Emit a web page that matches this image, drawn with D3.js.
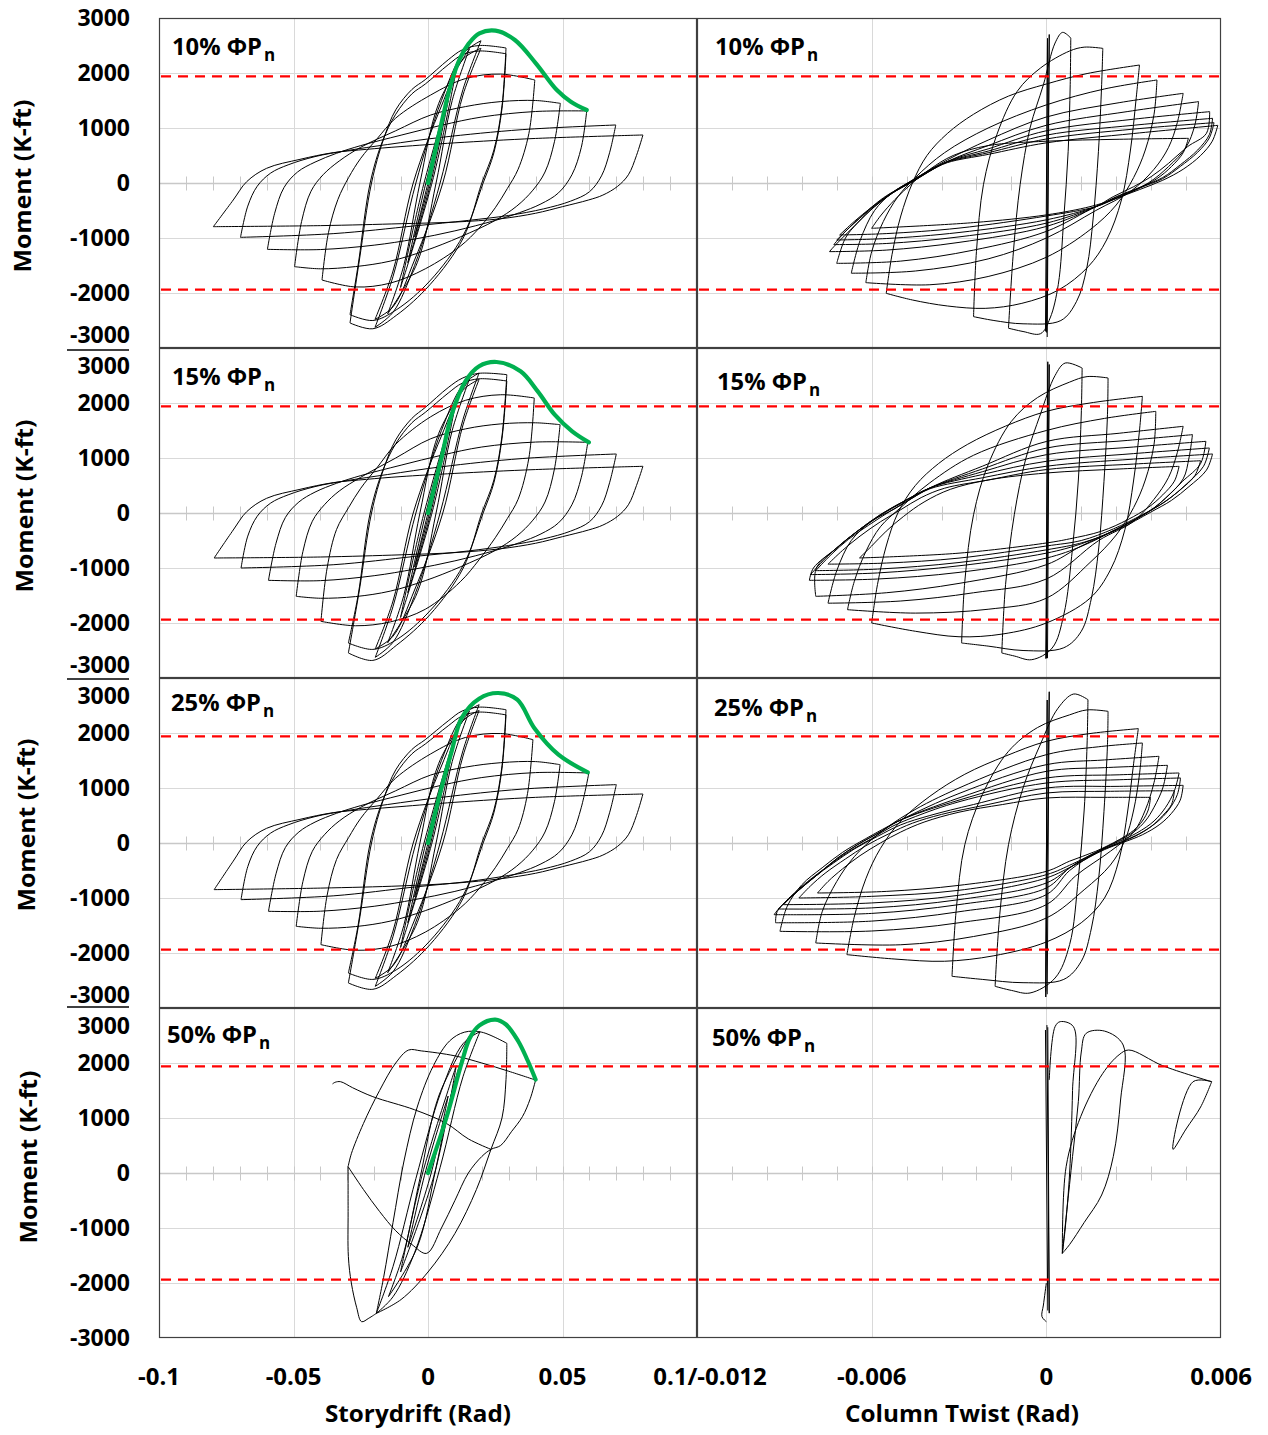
<!DOCTYPE html>
<html><head><meta charset="utf-8">
<script src="https://cdn.jsdelivr.net/npm/d3@7"></script>
<style>
body{margin:0;background:#fff}
svg{display:block}
text{font-family:'Open Sans','Lato',sans-serif;font-weight:700;fill:#000}
</style></head>
<body><svg id="c" width="1268" height="1435"></svg>
<script>
// ---------------- DATA ----------------
const rowLabels = ["10%","15%","25%","50%"];
const momentTicks = [-3000,-2000,-1000,0,1000,2000,3000];
const driftTicks = [-0.1,-0.05,0,0.05];
const driftTickLabels = ["-0.1","-0.05","0","0.05"];
const twistTicks = [-0.006,0,0.006];
const twistTickLabels = ["-0.006","0","0.006"];
const sharedTickLabel = "0.1/-0.012";
const nominalMoment = [1940,-1940];

// Storydrift cycles: [upper branch, lower branch]; points [drift (rad), moment (k-ft)]
const drift10Green = [[0,0],[0.0047,1024],[0.0086,1812],[0.0119,2267],[0.0152,2539],[0.0191,2721],[0.0251,2770],[0.0323,2600],[0.0401,2176],[0.0479,1691],[0.0531,1479],[0.059,1327]];
const drift10Small = [
 [[[-0.005,-980],[0,0],[0.005,1000]],[[0.005,1000],[0.0005,0],[-0.005,-980]]],
 [[[-0.0075,-1450],[-0.0008,0],[0.0075,1500]],[[0.0075,1500],[0.001,0],[-0.0075,-1450]]],
 [[[-0.0102,-1900],[-0.002,-100],[0.0105,2050]],[[0.0105,2050],[0.002,100],[-0.0102,-1900]]],
 [[[-0.015,-2380],[-0.009,-1500],[-0.003,0],[0.004,1450],[0.0154,2442]],[[0.0154,2442],[0.009,1500],[0.003,0],[-0.004,-1450],[-0.015,-2380]]],
 [[[-0.0197,-2624],[-0.013,-1700],[-0.0045,0],[0.005,1500],[0.013,2350],[0.0197,2587]],[[0.0197,2587],[0.013,1700],[0.0045,0],[-0.005,-1500],[-0.013,-2350],[-0.0197,-2624]]],
 [[[-0.0197,-2480],[-0.013,-1600],[-0.0055,0],[0.005,1400],[0.013,2250],[0.0197,2450]],[[0.0197,2450],[0.013,1600],[0.0055,0],[-0.005,-1400],[-0.013,-2250],[-0.0197,-2480]]]
];
const drift10Loops = [
 [[[-0.029,-2545],[-0.0255,-1400],[-0.021,0],[-0.0165,800],[-0.012,1330],[-0.006,1700],[-0.001,1880],[0.0075,2240],[0.0127,2420],[0.019,2500],[0.029,2455]],
  [[0.029,2455],[0.0275,1400],[0.0245,600],[0.02,0],[0.0131,-1000],[0.0007,-1850],[-0.0116,-2400],[-0.0205,-2650],[-0.029,-2545]]],
 [[[-0.029,-2394],[-0.026,-1500],[-0.0215,0],[-0.017,750],[-0.012,1250],[-0.006,1620],[-0.001,1800],[0.0075,2150],[0.0127,2330],[0.019,2400],[0.029,2350]],
  [[0.029,2350],[0.0275,1350],[0.0245,550],[0.0205,0],[0.0131,-950],[0.0007,-1780],[-0.0116,-2300],[-0.0205,-2500],[-0.029,-2394]]],
 [[[-0.0394,-1764],[-0.037,-900],[-0.0335,-300],[-0.0295,100],[-0.025,450],[-0.019,800],[-0.012,1180],[0.001,1600],[0.014,1900],[0.027,1980],[0.0397,1873]],
  [[0.0397,1873],[0.0375,900],[0.0335,250],[0.0295,-100],[0.025,-450],[0.019,-820],[0.012,-1150],[-0.001,-1560],[-0.014,-1820],[-0.027,-1890],[-0.0394,-1764]]],
 [[[-0.0496,-1521],[-0.047,-700],[-0.0435,-150],[-0.039,150],[-0.033,400],[-0.025,650],[-0.012,950],[0.001,1236],[0.014,1390],[0.027,1480],[0.04,1500],[0.0492,1448]],
  [[0.0492,1448],[0.047,750],[0.0435,200],[0.039,-130],[0.033,-420],[0.025,-680],[0.012,-980],[-0.001,-1230],[-0.014,-1420],[-0.027,-1520],[-0.04,-1560],[-0.0496,-1521]]],
 [[[-0.0597,-1206],[-0.057,-550],[-0.0535,-80],[-0.0485,200],[-0.042,380],[-0.034,540],[-0.025,680],[-0.01,870],[0.005,1050],[0.02,1200],[0.04,1300],[0.059,1310]],
  [[0.059,1310],[0.057,650],[0.0535,150],[0.0485,-180],[0.042,-380],[0.034,-540],[0.025,-680],[0.01,-870],[-0.005,-1020],[-0.02,-1130],[-0.04,-1210],[-0.0597,-1206]]],
 [[[-0.0697,-988],[-0.067,-420],[-0.0635,-60],[-0.0585,180],[-0.052,330],[-0.042,480],[-0.03,590],[-0.015,700],[0.005,830],[0.035,970],[0.0698,1055]],
  [[0.0698,1055],[0.0675,550],[0.0645,130],[0.06,-160],[0.053,-330],[0.043,-470],[0.03,-590],[0.015,-680],[-0.005,-780],[-0.035,-920],[-0.0697,-988]]],
 [[[-0.0798,-794],[-0.0724,-309],[-0.0674,24],[-0.06,267],[-0.0476,430],[-0.0352,552],[-0.0228,612],[-0.0104,661],[0.01,730],[0.04,810],[0.0799,873]],
  [[0.0799,873],[0.0775,500],[0.0745,150],[0.0705,-60],[0.065,-220],[0.0596,-310],[0.05,-430],[0.04,-550],[0.027,-650],[0.01,-710],[-0.01,-740],[-0.04,-775],[-0.0798,-794]]]
];

const drift15Green = [[0,0],[0.005,1000],[0.0088,1788],[0.0139,2394],[0.019,2667],[0.0255,2745],[0.0344,2576],[0.0408,2212],[0.0471,1788],[0.0536,1485],[0.0598,1285]];
const drift15Small = [
 [[[-0.005,-980],[0,0],[0.005,1000]],[[0.005,1000],[0.0005,0],[-0.005,-980]]],
 [[[-0.0075,-1450],[-0.0008,0],[0.0075,1500]],[[0.0075,1500],[0.001,0],[-0.0075,-1450]]],
 [[[-0.0102,-1900],[-0.002,-100],[0.0105,2050]],[[0.0105,2050],[0.002,100],[-0.0102,-1900]]],
 [[[-0.015,-2360],[-0.009,-1500],[-0.003,0],[0.004,1450],[0.0154,2430]],[[0.0154,2430],[0.009,1500],[0.003,0],[-0.004,-1450],[-0.015,-2360]]],
 [[[-0.0196,-2624],[-0.013,-1700],[-0.0045,0],[0.005,1500],[0.013,2330],[0.019,2545]],[[0.019,2545],[0.013,1700],[0.0045,0],[-0.005,-1500],[-0.013,-2350],[-0.0196,-2624]]],
 [[[-0.0196,-2470],[-0.013,-1600],[-0.0055,0],[0.005,1400],[0.013,2230],[0.019,2430]],[[0.019,2430],[0.013,1600],[0.0055,0],[-0.005,-1400],[-0.013,-2240],[-0.0196,-2470]]]
];
const drift15Loops = [
 [[[-0.0296,-2545],[-0.0255,-1400],[-0.021,0],[-0.0165,800],[-0.012,1330],[-0.006,1720],[-0.001,1920],[0.0075,2280],[0.0127,2450],[0.019,2540],[0.0293,2515]],
  [[0.0293,2515],[0.0275,1400],[0.0245,600],[0.02,0],[0.0131,-1000],[0.0007,-1850],[-0.0116,-2400],[-0.0205,-2680],[-0.0296,-2545]]],
 [[[-0.0296,-2364],[-0.026,-1500],[-0.0215,0],[-0.017,750],[-0.012,1260],[-0.006,1640],[-0.001,1830],[0.0075,2180],[0.0127,2360],[0.019,2440],[0.0293,2400]],
  [[0.0293,2400],[0.0275,1350],[0.0245,550],[0.0205,0],[0.0131,-950],[0.0007,-1780],[-0.0116,-2300],[-0.0205,-2480],[-0.0296,-2364]]],
 [[[-0.0398,-1970],[-0.0375,-1000],[-0.034,-300],[-0.0295,100],[-0.025,450],[-0.019,820],[-0.012,1250],[0.001,1750],[0.014,2050],[0.027,2150],[0.0395,2091]],
  [[0.0395,2091],[0.0375,1000],[0.0335,250],[0.0295,-100],[0.025,-450],[0.019,-850],[0.012,-1250],[-0.001,-1750],[-0.014,-1980],[-0.027,-2050],[-0.0398,-1970]]],
 [[[-0.049,-1515],[-0.0465,-700],[-0.043,-150],[-0.0385,150],[-0.033,400],[-0.025,650],[-0.012,1000],[0.001,1350],[0.014,1530],[0.027,1620],[0.04,1640],[0.0491,1606]],
  [[0.0491,1606],[0.047,800],[0.0435,200],[0.039,-130],[0.033,-420],[0.025,-680],[0.012,-980],[-0.001,-1230],[-0.014,-1420],[-0.027,-1520],[-0.04,-1550],[-0.049,-1515]]],
 [[[-0.0593,-1224],[-0.0565,-550],[-0.053,-80],[-0.048,200],[-0.042,380],[-0.034,540],[-0.025,680],[-0.01,870],[0.005,1050],[0.02,1200],[0.04,1290],[0.0594,1285]],
  [[0.0594,1285],[0.057,650],[0.0535,150],[0.0485,-180],[0.042,-380],[0.034,-540],[0.025,-680],[0.01,-870],[-0.005,-1020],[-0.02,-1140],[-0.04,-1230],[-0.0593,-1224]]],
 [[[-0.0695,-1000],[-0.067,-420],[-0.0635,-60],[-0.0585,180],[-0.052,330],[-0.042,480],[-0.03,590],[-0.015,700],[0.005,840],[0.035,990],[0.07,1073]],
  [[0.07,1073],[0.0675,550],[0.0645,130],[0.06,-160],[0.053,-330],[0.043,-470],[0.03,-590],[0.015,-690],[-0.005,-790],[-0.035,-940],[-0.0695,-1000]]],
 [[[-0.0795,-818],[-0.0724,-309],[-0.0674,24],[-0.06,267],[-0.0476,430],[-0.0352,552],[-0.0228,612],[-0.0104,661],[0.01,720],[0.04,790],[0.0799,849]],
  [[0.0799,849],[0.0775,500],[0.0745,150],[0.0705,-60],[0.065,-220],[0.0596,-310],[0.05,-430],[0.04,-550],[0.027,-650],[0.01,-720],[-0.01,-760],[-0.04,-800],[-0.0795,-818]]]
];

const drift25Green = [[0,0],[0.005,1000],[0.0088,1667],[0.0125,2273],[0.019,2624],[0.0261,2727],[0.0332,2606],[0.0395,2091],[0.0485,1606],[0.0594,1285]];
const drift25Small = [
 [[[-0.005,-980],[0,0],[0.005,1000]],[[0.005,1000],[0.0005,0],[-0.005,-980]]],
 [[[-0.0075,-1450],[-0.0008,0],[0.0075,1500]],[[0.0075,1500],[0.001,0],[-0.0075,-1450]]],
 [[[-0.0102,-1900],[-0.002,-100],[0.0105,2030]],[[0.0105,2030],[0.002,100],[-0.0102,-1900]]],
 [[[-0.015,-2360],[-0.009,-1500],[-0.003,0],[0.004,1450],[0.0154,2400]],[[0.0154,2400],[0.009,1480],[0.003,0],[-0.004,-1450],[-0.015,-2360]]],
 [[[-0.0196,-2606],[-0.013,-1700],[-0.0045,0],[0.005,1500],[0.013,2320],[0.019,2515]],[[0.019,2515],[0.013,1680],[0.0045,0],[-0.005,-1500],[-0.013,-2340],[-0.0196,-2606]]],
 [[[-0.0196,-2460],[-0.013,-1600],[-0.0055,0],[0.005,1400],[0.013,2220],[0.019,2410]],[[0.019,2410],[0.013,1580],[0.0055,0],[-0.005,-1400],[-0.013,-2230],[-0.0196,-2460]]]
];
const drift25Loops = [
 [[[-0.0296,-2545],[-0.0255,-1400],[-0.021,0],[-0.0165,800],[-0.012,1330],[-0.006,1700],[-0.001,1880],[0.0075,2220],[0.0127,2400],[0.019,2470],[0.029,2424]],
  [[0.029,2424],[0.0275,1400],[0.0245,600],[0.02,0],[0.0131,-1000],[0.0007,-1850],[-0.0116,-2400],[-0.0205,-2660],[-0.0296,-2545]]],
 [[[-0.0296,-2364],[-0.026,-1500],[-0.0215,0],[-0.017,750],[-0.012,1250],[-0.006,1620],[-0.001,1800],[0.0075,2130],[0.0127,2310],[0.019,2380],[0.029,2330]],
  [[0.029,2330],[0.0275,1350],[0.0245,550],[0.0205,0],[0.0131,-950],[0.0007,-1780],[-0.0116,-2300],[-0.0205,-2480],[-0.0296,-2364]]],
 [[[-0.0398,-1848],[-0.0375,-950],[-0.034,-300],[-0.0295,100],[-0.025,450],[-0.019,800],[-0.012,1180],[0.001,1620],[0.014,1920],[0.027,1990],[0.039,1879]],
  [[0.039,1879],[0.037,900],[0.0335,250],[0.0295,-100],[0.025,-450],[0.019,-830],[0.012,-1180],[-0.001,-1620],[-0.014,-1880],[-0.027,-1950],[-0.0398,-1848]]],
 [[[-0.049,-1515],[-0.0465,-700],[-0.043,-150],[-0.0385,150],[-0.033,400],[-0.025,650],[-0.012,950],[0.001,1236],[0.014,1380],[0.027,1460],[0.04,1480],[0.0491,1424]],
  [[0.0491,1424],[0.047,750],[0.0435,200],[0.039,-130],[0.033,-420],[0.025,-680],[0.012,-980],[-0.001,-1230],[-0.014,-1420],[-0.027,-1520],[-0.04,-1550],[-0.049,-1515]]],
 [[[-0.0593,-1242],[-0.0565,-560],[-0.053,-80],[-0.048,200],[-0.042,380],[-0.034,540],[-0.025,680],[-0.01,870],[0.005,1050],[0.02,1190],[0.04,1280],[0.0598,1273]],
  [[0.0598,1273],[0.057,650],[0.0535,150],[0.0485,-180],[0.042,-380],[0.034,-540],[0.025,-680],[0.01,-880],[-0.005,-1030],[-0.02,-1150],[-0.04,-1240],[-0.0593,-1242]]],
 [[[-0.0695,-1030],[-0.067,-430],[-0.0635,-60],[-0.0585,180],[-0.052,330],[-0.042,480],[-0.03,590],[-0.015,700],[0.005,830],[0.035,980],[0.07,1061]],
  [[0.07,1061],[0.0675,550],[0.0645,130],[0.06,-160],[0.053,-330],[0.043,-470],[0.03,-590],[0.015,-700],[-0.005,-800],[-0.035,-960],[-0.0695,-1030]]],
 [[[-0.0795,-848],[-0.0724,-330],[-0.0674,20],[-0.06,267],[-0.0476,430],[-0.0352,552],[-0.0228,612],[-0.0104,661],[0.01,740],[0.04,830],[0.0799,891]],
  [[0.0799,891],[0.0775,500],[0.0745,150],[0.0705,-60],[0.065,-220],[0.0596,-310],[0.05,-430],[0.04,-550],[0.027,-650],[0.01,-730],[-0.01,-780],[-0.04,-820],[-0.0795,-848]]]
];

const drift50Green = [[0,0],[0.0068,1000],[0.0125,2000],[0.0155,2450],[0.019,2680],[0.025,2790],[0.029,2700],[0.0335,2400],[0.037,2050],[0.04,1700]];
const drift50Small = [
 [[[-0.0075,-1350],[-0.0008,50],[0.0075,1400]],[[0.0075,1400],[0.0012,0],[-0.0075,-1350]]],
 [[[-0.0102,-1800],[-0.002,0],[0.0105,1950]],[[0.0105,1950],[0.0025,0],[-0.0102,-1800]]],
 [[[-0.0147,-2248],[-0.009,-1450],[-0.003,-100],[0.004,1400],[0.0152,2479]],[[0.0152,2479],[0.009,1500],[0.003,100],[-0.004,-1350],[-0.0147,-2248]]],
 [[[-0.0192,-2552],[-0.013,-1700],[-0.0045,-100],[0.005,1500],[0.013,2350],[0.0193,2570]],[[0.0193,2570],[0.013,1750],[0.0045,100],[-0.005,-1450],[-0.013,-2250],[-0.0192,-2552]]]
];
const drift50Loops = [
 [[[-0.0192,-2552],[-0.0165,-1900],[-0.013,-900],[-0.009,200],[-0.004,1200],[0.002,1950],[0.008,2400],[0.0135,2560],[0.02,2560],[0.0293,2358]],
  [[0.0293,2358],[0.029,1700],[0.0275,1000],[0.0234,430],[0.018,-300],[0.01,-1100],[0,-1800],[-0.01,-2300],[-0.0192,-2552]]]
];
const drift50Paths = [
 [[0.04,1690],[0.03,1850],[0.02,2000],[0.01,2130],[-0.0025,2220],[-0.0072,2236],[-0.012,2000],[-0.018,1500],[-0.024,900],[-0.0285,350],[-0.0297,115]],
 [[-0.0297,115],[-0.0297,-700],[-0.0296,-1521],[-0.0285,-2000],[-0.0265,-2450],[-0.0247,-2703],[-0.022,-2640],[-0.0192,-2552]],
 [[-0.0297,115],[-0.024,-300],[-0.018,-700],[-0.012,-1050],[-0.006,-1300],[-0.0005,-1461],[0.005,-1000],[0.01,-500],[0.015,0],[0.02,300],[0.0234,430],[0.027,500],[0.031,750],[0.0351,1024],[0.038,1350],[0.04,1690]],
 [[0.0234,430],[0.015,620],[0.0068,903],[-0.005,1150],[-0.0205,1388],[-0.028,1550],[-0.0325,1660],[-0.0345,1650],[-0.0355,1620]]
];

// Column twist cycles: points [twist (rad), moment (k-ft)]
const twist10Zero = [[[-0.00003,-2700],[0.00004,2630]],[[0.00004,2630],[0.00001,-2700]],[[0.00001,-2720],[0.0001,2700]],[[0.0001,2700],[0.00003,-2800]]];
const twist10Loops = [
 [[[-0.0013,-2640],[-0.00113,-1242],[-0.0009,-30],[-0.00056,1000],[-0.0001,1788],[0.0003,2545],[0.00056,2739],[0.00084,2636]],
  [[0.00084,2636],[0.00082,1788],[0.00075,576],[0.0006,-636],[0.00041,-1848],[0.00013,-2455],[-0.0002,-2740],[-0.0008,-2700],[-0.0013,-2640]]],
 [[[-0.0025,-2430],[-0.0024,-1242],[-0.00216,-30],[-0.0017,879],[-0.001,1667],[-0.0002,2091],[0.0008,2400],[0.0013,2470],[0.00194,2448]],
  [[0.00194,2448],[0.0019,1788],[0.00179,576],[0.00161,-636],[0.00139,-1545],[0.00104,-2151],[0.0005,-2500],[-0.0008,-2560],[-0.0018,-2500],[-0.0025,-2430]]],
 [[[-0.0055,-2006],[-0.0053,-1300],[-0.005,-600],[-0.0046,0],[-0.0041,500],[-0.0034,900],[-0.0025,1250],[-0.0013,1580],[0,1800],[0.0014,1990],[0.0032,2145]],
  [[0.0032,2145],[0.00308,1509],[0.00289,600],[0.00258,-309],[0.00207,-1036],[0.00144,-1521],[0.00042,-1945],[-0.00084,-2188],[-0.0021,-2279],[-0.0034,-2236],[-0.0046,-2127],[-0.0055,-2006]]],
 [[[-0.0062,-1812],[-0.006,-1250],[-0.0056,-700],[-0.0051,-250],[-0.0045,100],[-0.0035,550],[-0.002,1000],[0,1420],[0.002,1710],[0.0038,1873]],
  [[0.0038,1873],[0.0037,1250],[0.0034,600],[0.003,100],[0.0024,-400],[0.0015,-850],[0,-1350],[-0.002,-1700],[-0.004,-1850],[-0.0062,-1812]]],
 [[[-0.0067,-1640],[-0.0064,-1050],[-0.0059,-500],[-0.0053,-180],[-0.0046,50],[-0.0034,420],[-0.002,780],[0,1200],[0.0025,1460],[0.0047,1630]],
  [[0.0047,1630],[0.0045,1100],[0.0042,650],[0.0037,250],[0.0029,-150],[0.0017,-500],[0,-1000],[-0.002,-1380],[-0.0045,-1600],[-0.0067,-1640]]],
 [[[-0.0072,-1461],[-0.0069,-1000],[-0.0065,-733],[-0.0059,-430],[-0.0053,-188],[-0.0046,24],[-0.0034,390],[-0.002,680],[0,1050],[0.0028,1300],[0.00523,1479]],
  [[0.00523,1479],[0.0051,1050],[0.0048,650],[0.0042,300],[0.0035,0],[0.0023,-300],[0.0017,-430],[0,-880],[-0.0025,-1220],[-0.005,-1420],[-0.0072,-1461]]],
 [[[-0.00745,-1248],[-0.0073,-1158],[-0.0065,-733],[-0.0059,-430],[-0.0053,-188],[-0.0046,24],[-0.0034,390],[-0.002,620],[0,950],[0.003,1160],[0.00561,1297]],
  [[0.00561,1297],[0.0055,903],[0.00485,660],[0.0042,358],[0.0036,115],[0.003,-67],[0.0023,-248],[0.0017,-430],[0,-790],[-0.003,-1080],[-0.0055,-1220],[-0.00745,-1248]]],
 [[[-0.0073,-1120],[-0.0069,-880],[-0.0063,-580],[-0.0056,-270],[-0.0048,-20],[-0.004,236],[-0.0034,388],[-0.002,580],[0,870],[0.003,1050],[0.00571,1176]],
  [[0.00571,1176],[0.0056,880],[0.0052,600],[0.0046,330],[0.004,100],[0.0033,-60],[0.0024,-250],[0.0017,-430],[0,-730],[-0.003,-980],[-0.0055,-1100],[-0.0073,-1120]]],
 [[[-0.0072,-1036],[-0.0067,-780],[-0.0061,-500],[-0.0054,-210],[-0.0047,20],[-0.004,230],[-0.0034,380],[-0.002,550],[0,800],[0.003,980],[0.00576,1097]],
  [[0.00576,1097],[0.0056,820],[0.0052,560],[0.0046,300],[0.004,80],[0.0032,-90],[0.0024,-260],[0.0017,-430],[0,-670],[-0.003,-900],[-0.0055,-1010],[-0.0072,-1036]]],
 [[[-0.0071,-945],[-0.0066,-700],[-0.006,-440],[-0.0053,-180],[-0.0046,30],[-0.004,220],[-0.0034,370],[-0.002,520],[0,730],[0.003,900],[0.00589,1048]],
  [[0.00589,1048],[0.0057,760],[0.0053,500],[0.0047,250],[0.004,50],[0.0032,-120],[0.0024,-280],[0.0017,-430],[0,-600],[-0.003,-820],[-0.0055,-920],[-0.0071,-945]]],
 [[[-0.006,-824],[-0.0057,-600],[-0.0052,-300],[-0.0046,0],[-0.004,250],[-0.0032,500],[-0.002,680],[0,760],[0.0025,795],[0.00488,812]],
  [[0.00488,812],[0.0047,550],[0.0043,300],[0.0038,80],[0.0031,-120],[0.0023,-300],[0.0015,-430],[0,-580],[-0.0025,-720],[-0.006,-824]]]
];

const twist15Zero = [[[-0.00002,-2650],[0.00005,2750]],[[0.00005,2750],[0,-2640]],[[0,-2640],[0.0001,2700]],[[0.0001,2700],[0.00004,-2640]]];
const twist15Loops = [
 [[[-0.00153,-2545],[-0.0014,-1300],[-0.0011,-30],[-0.0007,1000],[-0.0002,1800],[0.0003,2500],[0.00065,2727],[0.00123,2636]],
  [[0.00123,2636],[0.0012,1800],[0.0011,600],[0.0009,-636],[0.0006,-1848],[0.0002,-2455],[-0.0005,-2667],[-0.0011,-2600],[-0.00153,-2545]]],
 [[[-0.00291,-2364],[-0.0028,-1242],[-0.0025,-30],[-0.002,879],[-0.0012,1667],[-0.0003,2100],[0.0008,2380],[0.0014,2480],[0.00212,2455]],
  [[0.00212,2455],[0.0021,1788],[0.00198,576],[0.0018,-636],[0.00155,-1545],[0.0012,-2151],[0.0006,-2450],[-0.0008,-2500],[-0.002,-2420],[-0.00291,-2364]]],
 [[[-0.006,-2000],[-0.0058,-1300],[-0.0055,-600],[-0.0051,0],[-0.0045,500],[-0.0037,900],[-0.0027,1250],[-0.0014,1580],[0,1848],[0.0015,2000],[0.0033,2121]],
  [[0.0033,2121],[0.0032,1500],[0.003,600],[0.0027,-300],[0.0022,-1036],[0.0015,-1550],[0,-2000],[-0.0015,-2200],[-0.003,-2250],[-0.0045,-2150],[-0.006,-2000]]],
 [[[-0.00683,-1758],[-0.0066,-1250],[-0.0062,-700],[-0.0057,-250],[-0.005,100],[-0.004,550],[-0.0025,1050],[0,1500],[0.002,1720],[0.00376,1848]],
  [[0.00376,1848],[0.0037,1250],[0.0034,600],[0.003,100],[0.0024,-400],[0.0015,-900],[0,-1550],[-0.002,-1750],[-0.0045,-1820],[-0.00683,-1758]]],
 [[[-0.0075,-1640],[-0.0072,-1050],[-0.0067,-500],[-0.006,-150],[-0.0052,80],[-0.004,455],[-0.0022,850],[0,1300],[0.0025,1450],[0.0047,1576]],
  [[0.0047,1576],[0.0045,1100],[0.0042,650],[0.0037,250],[0.003,-150],[0.0018,-500],[0,-1200],[-0.0025,-1450],[-0.005,-1600],[-0.0075,-1640]]],
 [[[-0.00792,-1515],[-0.0079,-1000],[-0.0072,-636],[-0.0065,-333],[-0.0057,-30],[-0.0049,212],[-0.004,455],[-0.0022,800],[0,1180],[0.0028,1320],[0.00502,1424]],
  [[0.00502,1424],[0.0049,1000],[0.0047,620],[0.0041,273],[0.00353,30],[0.00238,-303],[0.0012,-600],[0,-940],[-0.003,-1280],[-0.0055,-1450],[-0.00792,-1515]]],
 [[[-0.00814,-1224],[-0.008,-1000],[-0.0072,-636],[-0.0065,-333],[-0.0057,-30],[-0.0049,212],[-0.004,455],[-0.0022,750],[0,1060],[0.003,1200],[0.00548,1303]],
  [[0.00548,1303],[0.0053,900],[0.00468,576],[0.0041,273],[0.00353,30],[0.00238,-303],[0.00123,-600],[0,-820],[-0.003,-1080],[-0.0058,-1200],[-0.00814,-1224]]],
 [[[-0.0081,-1120],[-0.0076,-830],[-0.007,-540],[-0.0063,-260],[-0.0056,-10],[-0.0048,230],[-0.004,455],[-0.0022,700],[0,940],[0.003,1080],[0.0056,1182]],
  [[0.0056,1182],[0.0054,850],[0.0048,520],[0.0042,250],[0.0035,20],[0.0024,-300],[0.0012,-560],[0,-730],[-0.003,-960],[-0.0058,-1090],[-0.0081,-1120]]],
 [[[-0.00792,-1048],[-0.0074,-760],[-0.0068,-480],[-0.0061,-220],[-0.0054,20],[-0.0047,240],[-0.004,440],[-0.0022,640],[0,850],[0.003,980],[0.00571,1073]],
  [[0.00571,1073],[0.0055,780],[0.0049,480],[0.0043,230],[0.0036,20],[0.0025,-290],[0.0013,-530],[0,-670],[-0.003,-900],[-0.0058,-1020],[-0.00792,-1048]]],
 [[[-0.0075,-930],[-0.007,-680],[-0.0064,-420],[-0.0057,-160],[-0.005,60],[-0.0043,280],[-0.0035,450],[-0.002,600],[0,790],[0.003,890],[0.0053,950]],
  [[0.0053,950],[0.0051,680],[0.0046,420],[0.004,180],[0.0033,-30],[0.0023,-290],[0.0012,-500],[0,-600],[-0.003,-820],[-0.0055,-910],[-0.0075,-930]]],
 [[[-0.00642,-818],[-0.006,-600],[-0.0055,-330],[-0.0049,-60],[-0.0042,200],[-0.0033,430],[-0.002,600],[0,727],[0.0025,800],[0.00456,848]],
  [[0.00456,848],[0.0044,580],[0.004,330],[0.0035,100],[0.0028,-120],[0.0019,-330],[0.0008,-470],[0,-545],[-0.003,-730],[-0.00642,-818]]]
];

const twist25Zero = [[[-0.00002,-2700],[0.00003,2600]],[[0.00003,2600],[-0.00002,-2800]],[[-0.00002,-2800],[0.0001,2750]],[[0.0001,2750],[0.00003,-2750]]];
const twist25Loops = [
 [[[-0.00176,-2606],[-0.0016,-1300],[-0.0013,-30],[-0.0008,1000],[-0.0002,1800],[0.0004,2450],[0.00094,2709],[0.00143,2606]],
  [[0.00143,2606],[0.0014,1800],[0.0013,600],[0.0011,-636],[0.0008,-1848],[0.0003,-2455],[-0.00056,-2727],[-0.0012,-2680],[-0.00176,-2606]]],
 [[[-0.00324,-2424],[-0.0031,-1242],[-0.0028,-30],[-0.0022,879],[-0.0013,1667],[-0.0003,2100],[0.0008,2330],[0.0014,2420],[0.00212,2394]],
  [[0.00212,2394],[0.0021,1788],[0.00198,576],[0.0018,-636],[0.00155,-1545],[0.0012,-2151],[0.0006,-2480],[-0.0008,-2540],[-0.0022,-2480],[-0.00324,-2424]]],
 [[[-0.00685,-2030],[-0.0066,-1350],[-0.0062,-650],[-0.0057,-100],[-0.005,400],[-0.004,850],[-0.0028,1250],[-0.0014,1580],[0,1848],[0.0015,1990],[0.00316,2079]],
  [[0.00316,2079],[0.003,1450],[0.0028,600],[0.0025,-300],[0.002,-1000],[0.0012,-1450],[0,-1800],[-0.0018,-2050],[-0.0035,-2150],[-0.0052,-2110],[-0.00685,-2030]]],
 [[[-0.00792,-1818],[-0.0077,-1250],[-0.0072,-700],[-0.0066,-250],[-0.0058,150],[-0.0047,550],[-0.003,1000],[0,1606],[0.0018,1750],[0.0033,1818]],
  [[0.0033,1818],[0.0032,1250],[0.003,600],[0.0027,50],[0.0022,-400],[0.0013,-850],[0,-1364],[-0.0025,-1700],[-0.005,-1850],[-0.00792,-1818]]],
 [[[-0.00915,-1606],[-0.0089,-1150],[-0.0084,-760],[-0.0077,-450],[-0.007,-170],[-0.0062,80],[-0.005,420],[-0.003,900],[0,1424],[0.002,1510],[0.00387,1576]],
  [[0.00387,1576],[0.0037,1100],[0.0034,600],[0.003,200],[0.0022,-150],[0.001,-600],[0,-1121],[-0.003,-1450],[-0.006,-1600],[-0.00915,-1606]]],
 [[[-0.0093,-1450],[-0.00924,-1242],[-0.00855,-879],[-0.00786,-576],[-0.00717,-273],[-0.00648,-30],[-0.00567,212],[-0.0051,394],[-0.003,820],[0,1303],[0.002,1370],[0.00416,1412]],
  [[0.00416,1412],[0.004,1000],[0.0037,650],[0.0034,400],[0.003,200],[0.0018,-150],[0.0008,-500],[0,-939],[-0.003,-1250],[-0.006,-1420],[-0.0093,-1450]]],
 [[[-0.00935,-1303],[-0.0092,-1200],[-0.00855,-879],[-0.00786,-576],[-0.00717,-273],[-0.00648,-30],[-0.00567,212],[-0.0051,394],[-0.003,780],[0,1182],[0.0025,1240],[0.00456,1273]],
  [[0.00456,1273],[0.0044,950],[0.0041,650],[0.0037,400],[0.0031,180],[0.0018,-140],[0.0008,-450],[0,-818],[-0.003,-1120],[-0.006,-1280],[-0.00935,-1303]]],
 [[[-0.0092,-1200],[-0.0088,-980],[-0.0082,-700],[-0.0075,-420],[-0.0068,-160],[-0.006,80],[-0.0053,300],[-0.0045,480],[-0.003,750],[0,1091],[0.0025,1150],[0.00461,1182]],
  [[0.00461,1182],[0.0045,880],[0.0042,600],[0.0038,380],[0.0032,170],[0.0019,-130],[0.0009,-420],[0,-727],[-0.003,-1030],[-0.006,-1180],[-0.0092,-1200]]],
 [[[-0.00903,-1121],[-0.0086,-900],[-0.008,-630],[-0.0073,-360],[-0.0066,-110],[-0.0058,120],[-0.005,330],[-0.004,500],[-0.0025,700],[0,1000],[0.0025,1030],[0.0047,1048]],
  [[0.0047,1048],[0.0046,780],[0.0043,540],[0.0039,340],[0.0033,150],[0.002,-120],[0.001,-390],[0,-636],[-0.003,-950],[-0.006,-1090],[-0.00903,-1121]]],
 [[[-0.0085,-1000],[-0.0081,-780],[-0.0076,-550],[-0.0069,-290],[-0.0062,-50],[-0.0054,170],[-0.0046,360],[-0.0036,520],[-0.002,700],[0,909],[0.0022,940],[0.0044,950]],
  [[0.0044,950],[0.0043,700],[0.004,500],[0.0036,300],[0.003,110],[0.0018,-150],[0.0009,-380],[0,-576],[-0.003,-860],[-0.006,-970],[-0.0085,-1000]]],
 [[[-0.00786,-909],[-0.0075,-700],[-0.007,-470],[-0.0064,-230],[-0.0057,0],[-0.005,200],[-0.0042,380],[-0.003,560],[-0.0015,700],[0,818],[0.002,830],[0.00358,830]],
  [[0.00358,830],[0.0035,600],[0.0033,400],[0.003,230],[0.0025,60],[0.0017,-150],[0.0008,-330],[0,-515],[-0.003,-770],[-0.0055,-880],[-0.00786,-909]]]
];

const twist50Zero = [[[0.00002,2690],[0.0001,-2545]],[[-0.00003,2600],[0.00005,-2500]],[[0.00005,2650],[0.0001,-2550]],[[0,-2000],[-0.0001,-2400],[-0.00015,-2612],[0,-2703]]];
const twist50Paths = [
 [[0.0001,1690],[0.0003,2661],[0.00048,2752],[0.00093,2661],[0.0009,1500],[0.0008,0],[0.00065,-1000],[0.00055,-1461],[0.0007,-700],[0.0009,300],[0.0011,1300],[0.0012,2200],[0.00137,2540],[0.002,2580],[0.00264,2327],[0.00255,1327],[0.0023,300],[0.0019,-400],[0.0013,-900],[0.0008,-1300],[0.00055,-1461]],
 [[0.00055,-1461],[0.00068,115],[0.00118,1024],[0.00194,1812],[0.0025,2150],[0.00283,2236],[0.004,1950],[0.00568,1660]],
 [[0.00568,1660],[0.0053,1200],[0.0048,800],[0.00435,430],[0.00504,1660],[0.00568,1660]]
];

// ---------------- DRAW ----------------
const svg = d3.select('#c');
const rowTops = [18,348,678,1008], rowH = 330;
const xL = d3.scaleLinear().domain([-0.1,0.1]).range([159,697]);
const xR = d3.scaleLinear().domain([-0.012,0.006]).range([697,1221]);
const yS = i => d3.scaleLinear().domain([-3000,3000]).range([rowTops[i]+rowH, rowTops[i]]);
const defs = svg.append('defs');

function drawPanel(row, side, loops, paths, green){
  const xs = side==='L'?xL:xR, ys = yS(row);
  const [x0,x1] = xs.range(), top = rowTops[row], bot = top+rowH;
  const id = 'clip'+row+side;
  defs.append('clipPath').attr('id',id).append('rect').attr('x',x0).attr('y',top).attr('width',x1-x0).attr('height',rowH);
  const g = svg.append('g');
  g.selectAll('line.hg').data([-2000,-1000,1000,2000]).join('line')
    .attr('x1',x0).attr('x2',x1).attr('y1',d=>Math.round(ys(d))+0.5).attr('y2',d=>Math.round(ys(d))+0.5)
    .attr('stroke','#d9d9d9').attr('stroke-width',1);
  const vgrid = side==='L'?[-0.05,0,0.05]:[-0.006,0];
  g.selectAll('line.vg').data(vgrid).join('line')
    .attr('x1',d=>Math.round(xs(d))+0.5).attr('x2',d=>Math.round(xs(d))+0.5).attr('y1',top).attr('y2',bot)
    .attr('stroke','#d9d9d9').attr('stroke-width',1);
  const y0 = Math.round(ys(0))+0.5;
  g.append('line').attr('x1',x0).attr('x2',x1).attr('y1',y0).attr('y2',y0).attr('stroke','#c8c8c8').attr('stroke-width',1.5);
  const minor = side==='L' ? d3.range(-9,10).map(i=>i*0.01) : d3.range(-9,5).map(i=>i*0.0012);
  g.selectAll('line.mt').data(minor).join('line')
    .attr('x1',d=>Math.round(xs(d))+0.5).attr('x2',d=>Math.round(xs(d))+0.5).attr('y1',y0-7).attr('y2',y0+7)
    .attr('stroke','#c8c8c8').attr('stroke-width',1);
  const cg = svg.append('g').attr('clip-path','url(#'+id+')');
  const line = d3.line().x(d=>xs(d[0])).y(d=>ys(d[1])).curve(d3.curveCatmullRom.alpha(0.5));
  loops.forEach(lp=>lp.forEach(br=>{
    cg.append('path').attr('d',line(br)).attr('fill','none').attr('stroke','#000').attr('stroke-width',1);
  }));
  (paths||[]).forEach(p=>{
    cg.append('path').attr('d',line(p)).attr('fill','none').attr('stroke','#000').attr('stroke-width',1);
  });
  cg.selectAll('line.rd').data(nominalMoment).join('line')
    .attr('x1',x0+2).attr('x2',x1).attr('y1',d=>ys(d)).attr('y2',d=>ys(d))
    .attr('stroke','#ff0000').attr('stroke-width',2.2).attr('stroke-dasharray','10,7');
  if(green){
    cg.append('path').attr('d',line(green)).attr('fill','none').attr('stroke','#00b050').attr('stroke-width',4.2).attr('stroke-linecap','round');
  }
  svg.append('rect').attr('x',x0+0.5).attr('y',top+0.5).attr('width',x1-x0-1).attr('height',rowH-1)
    .attr('fill','none').attr('stroke','#404040').attr('stroke-width',1.2);
}

const leftData = [
  [drift10Small.concat(drift10Loops),null,drift10Green],
  [drift15Small.concat(drift15Loops),null,drift15Green],
  [drift25Small.concat(drift25Loops),null,drift25Green],
  [drift50Small.concat(drift50Loops),drift50Paths,drift50Green]];
const rightData = [[twist10Loops,twist10Zero],[twist15Loops,twist15Zero],[twist25Loops,twist25Zero],[[],twist50Zero.concat(twist50Paths)]];
for(let r=0;r<4;r++){
  drawPanel(r,'L',leftData[r][0],leftData[r][1],leftData[r][2]);
  drawPanel(r,'R',rightData[r][0],rightData[r][1],null);
}

// y tick labels
const topShift = [0,18,18,18], botShift = [-13.5,-13.5,-13.5,0];
for(let r=0;r<4;r++){
  const ys = yS(r);
  svg.selectAll(null).data(momentTicks).join('text')
    .attr('x',130).attr('text-anchor','end').attr('font-size',23)
    .attr('y',d=>ys(d)+8.2+(d===3000?topShift[r]:d===-3000?botShift[r]:0))
    .text(d=>d);
  if(r<3){
    const yy=[350,679,1007][r];
    svg.append('line').attr('x1',67).attr('x2',129).attr('y1',yy).attr('y2',yy).attr('stroke','#000').attr('stroke-width',1.5);
  }
}
// y titles
const yTitleX=[31,33,35,37], yTitleY=[186,506,825,1157];
for(let r=0;r<4;r++){
  svg.append('text').attr('transform',`translate(${yTitleX[r]},${yTitleY[r]}) rotate(-90)`)
    .attr('text-anchor','middle').attr('font-size',24).attr('textLength',173).attr('lengthAdjust','spacingAndGlyphs')
    .text('Moment (K-ft)');
}
// panel labels
const lblL=[[172,55],[172,385],[171,711],[167,1043]], lblR=[[715,55],[717,390],[714,716],[712,1046]];
[lblL,lblR].forEach(set=>set.forEach((p,r)=>{
  svg.append('text').attr('x',p[0]).attr('y',p[1]).attr('font-size',23).attr('textLength',90).attr('lengthAdjust','spacingAndGlyphs')
    .text(rowLabels[r]+' ΦP');
  svg.append('text').attr('x',p[0]+92).attr('y',p[1]+6).attr('font-size',17).text('n');
}));
// x tick labels
const xtY = 1385;
svg.selectAll(null).data(driftTicks).join('text').attr('x',d=>xL(d)).attr('y',xtY).attr('text-anchor','middle').attr('font-size',24)
  .text((d,i)=>driftTickLabels[i]);
svg.append('text').attr('x',710).attr('y',xtY).attr('text-anchor','middle').attr('font-size',24).text(sharedTickLabel);
svg.selectAll(null).data(twistTicks).join('text').attr('x',d=>xR(d)).attr('y',xtY).attr('text-anchor','middle').attr('font-size',24)
  .text((d,i)=>twistTickLabels[i]);
// x titles
svg.append('text').attr('x',418).attr('y',1422).attr('text-anchor','middle').attr('font-size',24).attr('textLength',186).attr('lengthAdjust','spacingAndGlyphs').text('Storydrift (Rad)');
svg.append('text').attr('x',962).attr('y',1422).attr('text-anchor','middle').attr('font-size',24).attr('textLength',234).attr('lengthAdjust','spacingAndGlyphs').text('Column Twist (Rad)');
</script></body></html>
